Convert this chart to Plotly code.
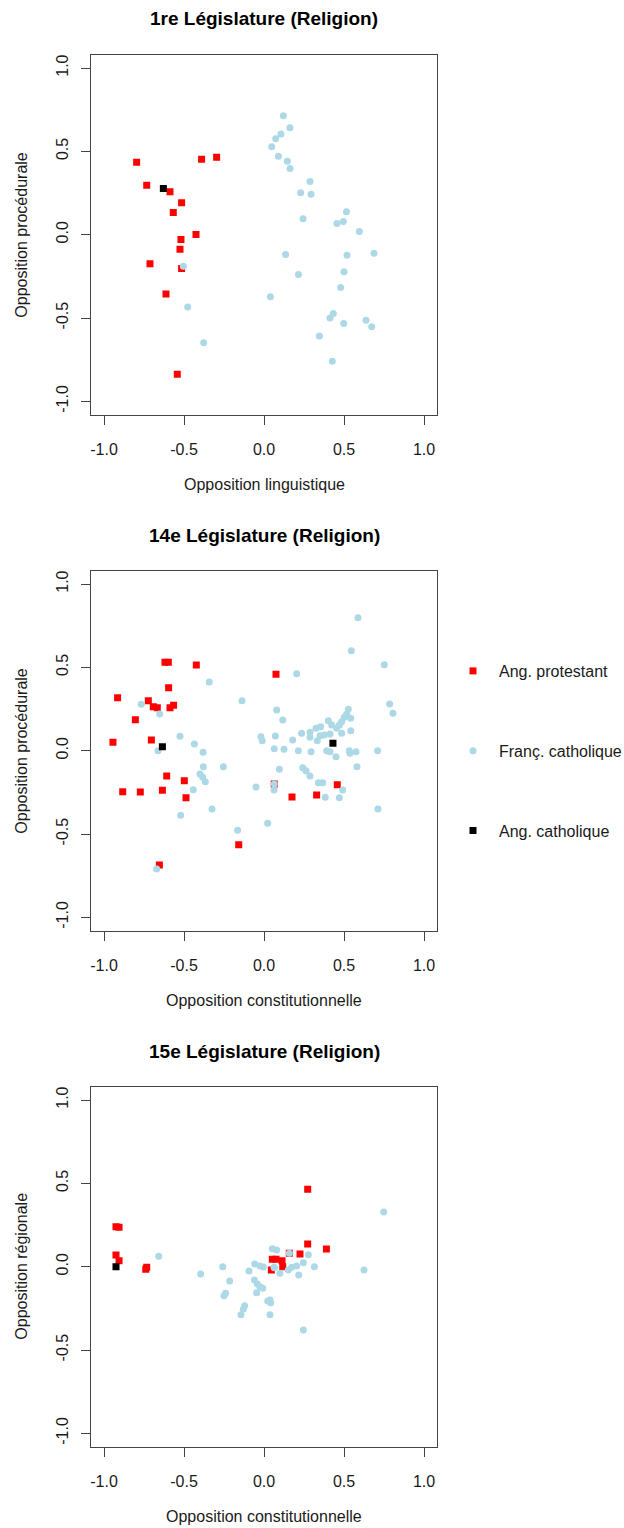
import plotly.graph_objects as go

W, H = 624, 1528

# ---------------- data ----------------
tick_vals = [-1.0, -0.5, 0.0, 0.5, 1.0]
tick_text = ["-1.0", "-0.5", "0.0", "0.5", "1.0"]

groups = ["Ang. protestant", "Franç. catholique", "Ang. catholique"]

titles = ["1re Législature (Religion)", "14e Législature (Religion)", "15e Législature (Religion)"]
x_titles = ["Opposition linguistique", "Opposition constitutionnelle", "Opposition constitutionnelle"]
y_titles = ["Opposition procédurale", "Opposition procédurale", "Opposition régionale"]

# Panel 1 : 1re législature
p1_prot_x = [-0.796, -0.39, -0.296, -0.733, -0.5875, -0.515, -0.567, -0.425, -0.519, -0.525,
             -0.7125, -0.515, -0.6125, -0.542]
p1_prot_y = [0.434, 0.453, 0.464, 0.297, 0.257, 0.191, 0.133, 0.001, -0.029, -0.087,
             -0.175, -0.203, -0.356, -0.838]
p1_cath_x = [-0.504, -0.477, -0.377, 0.04, 0.121, 0.162, 0.106, 0.073, 0.048, 0.090, 0.146, 0.1625,
             0.2875, 0.229, 0.294, 0.515, 0.244, 0.456, 0.496, 0.596, 0.135, 0.519, 0.6875, 0.215,
             0.5, 0.479, 0.433, 0.4125, 0.498, 0.6375, 0.673, 0.346, 0.427]
p1_cath_y = [-0.189, -0.434, -0.648, -0.373, 0.714, 0.641, 0.604, 0.576, 0.527, 0.471, 0.441, 0.397,
             0.319, 0.251, 0.243, 0.137, 0.095, 0.067, 0.079, 0.019, -0.119, -0.123, -0.111, -0.239,
             -0.223, -0.317, -0.473, -0.5, -0.533, -0.514, -0.553, -0.608, -0.76]
p1_angcath_x = [-0.629]
p1_angcath_y = [0.277]

# Panel 2 : 14e législature
p2_prot_x = [-0.619, -0.598, -0.423, 0.075, -0.596, -0.915, -0.723, -0.692, -0.667, -0.5875, -0.565,
             -0.804, -0.944, -0.704, -0.608, -0.498, -0.883, -0.773, -0.635, -0.4875, -0.158, -0.654,
             0.064, 0.458, 0.175, 0.329]
p2_prot_y = [0.530, 0.530, 0.514, 0.458, 0.378, 0.318, 0.300, 0.264, 0.258, 0.258, 0.272,
             0.186, 0.050, 0.064, -0.152, -0.180, -0.246, -0.248, -0.238, -0.282, -0.564, -0.686,
             -0.2, -0.204, -0.278, -0.266]
p2_cath_x = [-0.342, -0.767, -0.652, -0.1375, 0.079, -0.525, -0.435, -0.381, -0.019, -0.011, 0.071,
             0.064, -0.6625, -0.379, -0.254, -0.4, -0.383, -0.367, -0.442, -0.325, -0.521, -0.165,
             0.023, -0.05, 0.096, 0.0625, -0.671, 0.064,
             0.204, 0.5875, 0.546, 0.752, 0.785, 0.806, 0.117, 0.527, 0.542, 0.402, 0.423, 0.354,
             0.325, 0.2875, 0.235, 0.542, 0.485, 0.4125, 0.377, 0.35, 0.333, 0.2875, 0.179, 0.125,
             0.215, 0.294, 0.392, 0.4125, 0.45, 0.533, 0.5375, 0.575, 0.71,
             0.517, 0.502, 0.485, 0.471, 0.454,
             0.242, 0.2625, 0.2875, 0.581, 0.34, 0.367, 0.492, 0.383, 0.471, 0.7125]
p2_cath_y = [0.412, 0.278, 0.220, 0.300, 0.244, 0.086, 0.040, -0.010, 0.084, 0.060, 0.088,
             0.012, 0.0, -0.096, -0.096, -0.140, -0.160, -0.186, -0.234, -0.350, -0.388, -0.478,
             -0.436, -0.218, -0.112, -0.236, -0.710, -0.2,
             0.462, 0.798, 0.600, 0.516, 0.280, 0.224, 0.184, 0.248, 0.194, 0.180, 0.154, 0.144,
             0.134, 0.110, 0.104, 0.12, 0.104, 0.1, 0.094, 0.09, 0.06, 0.08, 0.064, 0.008,
             0.0, -0.006, 0.0, -0.006, -0.036, 0.0, -0.016, -0.006, 0.0,
             0.22, 0.2, 0.174, 0.154, 0.134,
             -0.102, -0.12, -0.152, -0.096, -0.192, -0.192, -0.236, -0.28, -0.282, -0.35]
p2_angcath_x = [-0.635, 0.431]
p2_angcath_y = [0.024, 0.044]

# Panel 3 : 15e législature
p3_prot_x = [-0.925, -0.906, -0.925, -0.906, -0.733, -0.739, 0.273, 0.273, 0.39, 0.225, 0.158,
             0.052, 0.075, 0.1125, 0.117, 0.046]
p3_prot_y = [0.240, 0.236, 0.070, 0.036, -0.004, -0.016, 0.464, 0.136, 0.106, 0.076, 0.08,
             0.044, 0.044, 0.036, 0.0, -0.02]
p3_cath_x = [-0.658, -0.396, -0.258, -0.215, -0.24, -0.25, -0.121, -0.129, -0.144, -0.094, -0.058,
             -0.025, -0.004, -0.06, -0.042, -0.025, -0.008, -0.046, 0.023, 0.042, 0.0375, 0.052,
             0.079, 0.0625, 0.748, 0.158, 0.277, 0.246, 0.315, 0.204, 0.173, 0.152, 0.1, 0.217,
             0.065, 0.625, 0.246, 0.0375]
p3_cath_y = [0.062, -0.044, 0.0, -0.086, -0.16, -0.174, -0.234, -0.254, -0.288, -0.026, 0.016,
             0.004, -0.002, -0.08, -0.104, -0.12, -0.13, -0.156, -0.206, -0.216, -0.288, 0.108,
             0.1, -0.004, 0.328, 0.08, 0.072, 0.024, 0.0, 0.004, -0.004, -0.02, -0.04, -0.05,
             -0.006, -0.02, -0.38, -0.2]
p3_angcath_x = [-0.925]
p3_angcath_y = [0.0]

panels = [
    [(p1_prot_x, p1_prot_y), (p1_cath_x, p1_cath_y), (p1_angcath_x, p1_angcath_y)],
    [(p2_prot_x, p2_prot_y), (p2_cath_x, p2_cath_y), (p2_angcath_x, p2_angcath_y)],
    [(p3_prot_x, p3_prot_y), (p3_cath_x, p3_cath_y), (p3_angcath_x, p3_angcath_y)],
]

# ---------------- style ----------------
colors = ["#FF0000", "#ADD8E6", "#000000"]
symbols = ["square", "circle", "square"]
sizes = [7, 7, 7]
FONT = "Liberation Sans, Arial, Helvetica, sans-serif"
TXT = "#1a1a1a"

# plot boxes in pixels (left, top, right, bottom)
box_left, box_right = 91.2, 436.8
box_tops = [54.7, 570.7, 1086.7]
box_h = 360.0
title_y = [19, 535, 1051]
xtitle_y = [484.7, 1000.7, 1516.7]
ytitle_x = 22


def px_x(p):
    return p / W


def px_y(p):
    return 1 - p / H


fig = go.Figure()

for i, panel in enumerate(panels):
    ax = "" if i == 0 else str(i + 1)
    for j, (xs, ys) in enumerate(panel):
        fig.add_trace(go.Scatter(
            x=xs, y=ys, mode="markers", name=groups[j],
            xaxis="x" + ax, yaxis="y" + ax,
            marker=dict(color=colors[j], symbol=symbols[j], size=sizes[j], line=dict(width=0)),
            legendgroup=groups[j], showlegend=(i == 1),
            hoverinfo="x+y+name",
        ))

axis_common = dict(
    range=[-1.08, 1.08], tickvals=tick_vals, ticktext=tick_text,
    showgrid=False, zeroline=False, showline=True, mirror=True,
    linecolor="#444444", linewidth=1, ticks="outside", ticklen=9, tickwidth=1,
    tickcolor="#444444", tickfont=dict(family=FONT, size=16, color=TXT),
)

layout = dict(
    width=W, height=H, margin=dict(l=0, r=0, t=0, b=0, autoexpand=False),
    paper_bgcolor="white", plot_bgcolor="white",
    font=dict(family=FONT, color=TXT),
    showlegend=True,
    legend=dict(
        x=px_x(447), y=px_y(654), xanchor="left", yanchor="top",
        tracegroupgap=56, itemwidth=42, font=dict(family=FONT, size=16, color=TXT),
        bgcolor="rgba(0,0,0,0)", traceorder="grouped",
    ),
)

annotations = []
for i in range(3):
    ax = "" if i == 0 else str(i + 1)
    top = box_tops[i]
    bottom = top + box_h
    layout["xaxis" + ax] = dict(axis_common, domain=[px_x(box_left), px_x(box_right)],
                                anchor="y" + ax, ticklabelstandoff=11)
    layout["yaxis" + ax] = dict(axis_common, domain=[px_y(bottom), px_y(top)],
                                anchor="x" + ax, tickangle=-90, ticklabelstandoff=7)
    annotations.append(dict(text="<b>" + titles[i] + "</b>", x=px_x((box_left + box_right) / 2),
                            y=px_y(title_y[i]), xref="paper", yref="paper", showarrow=False,
                            xanchor="center", yanchor="middle",
                            font=dict(family=FONT, size=19, color="#000000")))
    annotations.append(dict(text=x_titles[i], x=px_x((box_left + box_right) / 2),
                            y=px_y(xtitle_y[i]), xref="paper", yref="paper", showarrow=False,
                            xanchor="center", yanchor="middle",
                            font=dict(family=FONT, size=16, color=TXT)))
    annotations.append(dict(text=y_titles[i], x=px_x(ytitle_x), y=px_y(top + box_h / 2),
                            xref="paper", yref="paper", showarrow=False, textangle=-90,
                            xanchor="center", yanchor="middle",
                            font=dict(family=FONT, size=16, color=TXT)))

layout["annotations"] = annotations
fig.update_layout(**layout)

fig.write_html("out.html")
